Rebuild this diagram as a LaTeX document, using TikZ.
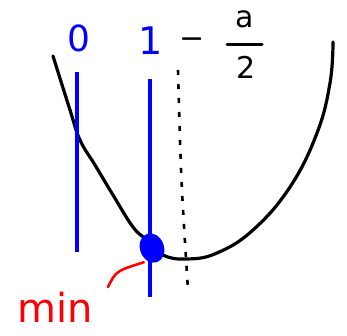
\documentclass[tikz,border=0pt]{standalone}
\usepackage{fontspec}
\setmainfont{DejaVu Sans}
\usetikzlibrary{calc,shapes.geometric}

\begin{document}
\begin{tikzpicture}[x=1pt,y=-1pt]
\useasboundingbox (0,0) rectangle (347,335);
% the parabola
\draw[line width=3.2pt, line cap=round, line join=round]
  plot[smooth, tension=0.7] coordinates {
    (53,56) (70,110) (80,140) (95,165) (113,195) (133,227) (147,240) (163,255)
    (187,259) (217,253) (253,230) (290,187) (317,133) (330,83) (333,42)};

% the two blue lines and their labels
\coordinate (zerotop) at (77,72);
\coordinate (zerobot) at (77,252);
\coordinate (onetop) at (150,79);
\coordinate (onebot) at (150,297);
\draw[blue, line width=3.4pt] (zerotop) -- (zerobot);
\draw[blue, line width=3.4pt] (onetop) -- (onebot);
\node[blue, font=\fontsize{36}{36}\selectfont, inner sep=0pt] (zero) at (79,38) {0};
\node[blue, font=\fontsize{38}{38}\selectfont, inner sep=0pt] (one) at (151,41) {1};

% the dotted vertex line and its label
\coordinate (vtop) at (178,70);
\coordinate (vbot) at (188,290);
\draw[line width=2.6pt, dash pattern=on 5pt off 9pt] (vtop) .. controls (181,180) .. (vbot);
\node[inner sep=0pt, font=\fontsize{30}{30}\selectfont] (minus) at (192,43) {−};
\node[inner sep=0pt, font=\fontsize{30}{30}\selectfont] (num) at (245,19) {a};
\node[inner sep=0pt, font=\fontsize{30}{30}\selectfont] (den) at (246,67) {2};
\coordinate (barleft) at (227,44);
\coordinate (barright) at (262,44);
\draw[line width=3pt, line cap=round] (barleft) -- (barright);

% the minimum point
\node[blue, fill=blue, ellipse, minimum width=24pt, minimum height=30pt, inner sep=0pt,
      rotate=20] (dot) at (152,248) {};
\node[red, font=\fontsize{40}{40}\selectfont, inner sep=0pt, anchor=base west] (min) at (17,322) {min};
\coordinate (tail) at (108,287);
\draw[red, line width=2.6pt, line cap=round, shorten >=4pt] (tail) .. controls (116,271) .. (dot.south west);
\end{tikzpicture}
\end{document}
